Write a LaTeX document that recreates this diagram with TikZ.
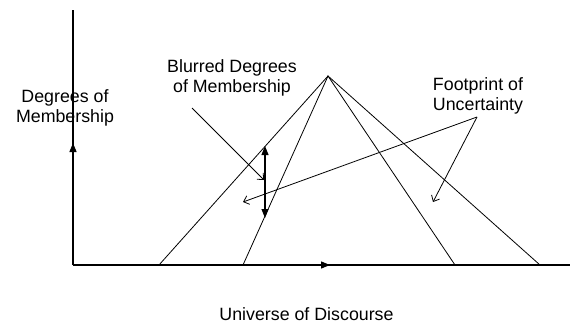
\documentclass[tikz,border=0pt]{standalone}
\usepackage{fontspec}
\setmainfont{Liberation Sans}
\usetikzlibrary{arrows.meta}
\begin{document}
\begin{tikzpicture}[x=1pt,y=-1pt,
  lbl/.style={align=center,font=\fontsize{17.8}{20}\selectfont,inner sep=0pt},
  thin line/.style={line width=0.8pt},
  axis/.style={line width=1.3pt},
  pointer/.style={line width=0.8pt,-{Straight Barb[length=5pt,width=9pt]}},
  filltip/.style={-{Triangle[length=9pt,width=7pt]}}]
\useasboundingbox (0,0) rectangle (572,324);
% axes
\coordinate (O) at (73,265);
\coordinate (ytop) at (73,10);
\coordinate (xend) at (570,265);
\coordinate (ymid) at (73,143);
\coordinate (xmid) at (330,265);
\draw[axis] (O) -- (ytop);
\draw[axis] (O) -- (xend);
\draw[axis,filltip] (O) -- (ymid);
\draw[axis,filltip] (O) -- (xmid);
% triangles
\coordinate (apex) at (328,76);
\coordinate (a) at (159,265);
\coordinate (b) at (243,265);
\coordinate (c) at (455,265);
\coordinate (d) at (540,265);
\draw[thin line] (a) -- (apex) -- (d);
\draw[thin line] (b) -- (apex) -- (c);
% blurred double arrow
\coordinate (vt) at (265,146);
\coordinate (vb) at (265,218);
\draw[line width=1.1pt,{Triangle[length=9pt,width=7pt]}-{Triangle[length=9pt,width=7pt]}] (vt) -- (vb);
% labels
\node[lbl] (deg) at (65,108) {Degrees of\\Membership};
\node[lbl] (blur) at (232,78) {Blurred Degrees\\of Membership};
\node[lbl] (foot) at (478,96) {Footprint of\\Uncertainty};
\node[lbl,anchor=base] (univ) at (306.5,320) {Universe of Discourse};
% pointers
\coordinate (bs) at (192,108);
\coordinate (be) at (264,180);
\draw[pointer] (bs) -- (be);
\coordinate (fs) at (477,117);
\coordinate (fe1) at (243,202);
\coordinate (fe2) at (433,202);
\draw[pointer] (fs) -- (fe1);
\draw[pointer] (fs) -- (fe2);
\end{tikzpicture}
\end{document}
